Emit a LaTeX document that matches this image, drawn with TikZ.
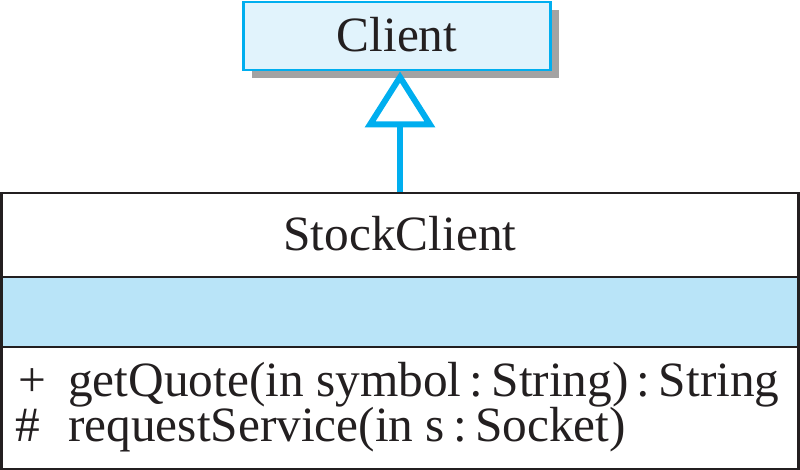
\documentclass[tikz,border=0pt]{standalone}
\usepackage{fontspec}
\setmainfont{Liberation Serif}
\usetikzlibrary{arrows.meta,shadows}
\definecolor{cyanline}{HTML}{00AEEF}
\definecolor{clientfill}{HTML}{E1F3FC}
\definecolor{bandfill}{HTML}{B9E4F8}
\definecolor{darkline}{HTML}{231F20}
\definecolor{shadowgray}{HTML}{A3A3A3}
\begin{document}
\begin{tikzpicture}[x=0.75pt,y=-0.75pt,
  part/.style={draw=darkline, line width=2.2pt, minimum width={797*0.75pt}, inner sep=0pt},
  label/.style={inner sep=0pt, font=\fontsize{37}{40}\selectfont, text=darkline},
  gen/.style={draw=cyanline, line width=5pt, -{Triangle[open, length=42pt, width=52pt, line width=4.5pt]}}]
\useasboundingbox (0,0) rectangle (800,470);
\node[draw=cyanline, fill=clientfill, line width=2.2pt, inner sep=0pt,
      minimum width={307*0.75pt}, minimum height={68*0.75pt},
      general shadow={fill=shadowgray, shadow xshift=6pt, shadow yshift=-6pt}] (client) at (397,36) {};
\node[label, anchor=base] (clientlabel) at (397,52) {Client};
\node[part, minimum height={84*0.75pt}] (stock) at (400,235) {};
\node[part, fill=bandfill, minimum height={70*0.75pt}] (attrs) at (400,312) {};
\node[part, minimum height={122*0.75pt}] (ops) at (400,408) {};
\node[label, anchor=base] (stocklabel) at (400,251) {StockClient};
\node[label, anchor=base west] (op1sym) at (18,397) {+};
\node[label, anchor=base west] (op1) at (68,397) {getQuote(in symbol\,:\,String)\,:\,String};
\node[label, anchor=base west] (op2sym) at (15,441) {\#};
\node[label, anchor=base west] (op2) at (68,441) {requestService(in s\,:\,Socket)};
\draw[gen] (stock.north) -- (stock.north |- client.south);
\end{tikzpicture}
\end{document}
